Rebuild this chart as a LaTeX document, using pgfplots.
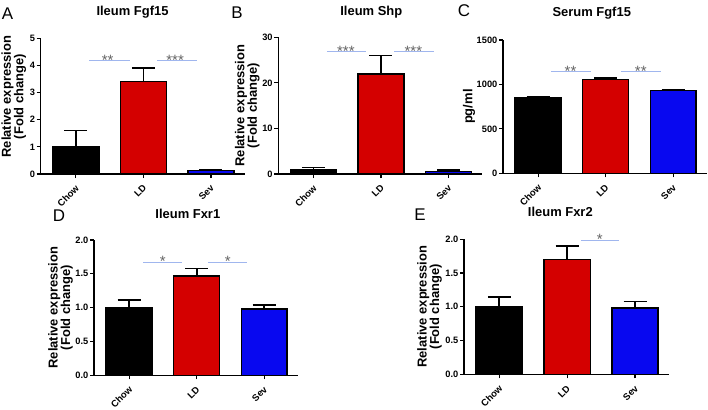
\documentclass[border=0pt]{standalone}
\usepackage{pgfplots}
\pgfplotsset{compat=1.18}
\usepackage{fontspec}
\setmainfont{Liberation Sans}

\definecolor{gpred}{RGB}{212,0,0}
\definecolor{gpblue}{RGB}{8,8,240}
\definecolor{sigline}{RGB}{160,182,238}
\definecolor{stargray}{RGB}{100,100,100}

\tikzset{
  stars/.style={text=stargray, font=\fontsize{15}{15}\selectfont, anchor=base, yshift=-4.3bp, inner sep=0pt},
}
\pgfplotsset{
  gp/.style={
    scale only axis, width=204bp, height=135bp,
    axis x line*=bottom, axis y line*=left,
    axis line style={line width=1.5pt, -},
    xmin=-0.52, xmax=2.5, ymin=0,
    xtick={0,1,2}, xticklabels={Chow,LD,Sev},
    tick align=outside, major tick length=4bp,
    tick style={black, line width=1.2pt},
    /pgf/number format/assume math mode=true,
    x tick label style={yshift=-4bp, xshift=-1bp, rotate=45, anchor=north east, inner sep=1.5pt,
      font=\bfseries\fontsize{9.5}{10}\selectfont},
    y tick label style={font=\bfseries\fontsize{9.3}{10}\selectfont, inner sep=1.5pt},
    title style={font=\bfseries\fontsize{13}{14}\selectfont, anchor=center},
    every axis y label/.style={rotate=90, anchor=center, align=center,
      font=\bfseries\fontsize{13}{12.5}\selectfont},
    clip=false,
  },
  gpbar/.style={ybar, bar shift=0pt, bar width=0.68, draw=black, line width=1.5pt, fill=#1,
    error bars/.cd, y dir=plus, y explicit,
    error bar style={line width=1.7pt, black},
    error mark options={rotate=90, line width=1.7pt, mark size=11.5bp, black}},
  sig/.style={sigline, line width=0.9pt},
}

\begin{document}
\begin{tikzpicture}
\path[use as bounding box] (0,0) rectangle (708bp,-410bp);

% Panel letters
\begin{scope}[every node/.style={font=\fontsize{17}{18}\selectfont, anchor=center, inner sep=0pt}]
\node at (7.5bp,-13.5bp) {A};
\node at (237bp,-12.5bp) {B};
\node at (464bp,-10.5bp) {C};
\node at (59bp,-215.5bp) {D};
\node at (420bp,-215bp) {E};
\end{scope}

% A: Ileum Fgf15
\begin{axis}[gp, at={(40.7bp,-174bp)}, anchor=south west, height=135.7bp,
  ymax=5, ytick={0,1,2,3,4,5},
  title={Ileum Fgf15}, title style={at={(axis description cs:0.45,1)}, yshift=20.3bp},
  ylabel={Relative expression\\(Fold change)},
  every axis y label/.append style={at={(axis description cs:-0.132,0.57)}}]
\addplot[gpbar=black] coordinates {(0,1.0) +- (0,0.6)};
\addplot[gpbar=gpred] coordinates {(1,3.4) +- (0,0.5)};
\addplot[gpbar=gpblue] coordinates {(2,0.12) +- (0,0.05)};
\addplot[sig] coordinates {(0.2,4.17) (0.8,4.17)};
\addplot[sig] coordinates {(1.2,4.17) (1.8,4.17)};
\node[stars] at (axis cs:0.47,4.17) {**};
\node[stars] at (axis cs:1.47,4.17) {***};
\end{axis}

% B: Ileum Shp
\begin{axis}[gp, at={(278.3bp,-174bp)}, anchor=south west, height=136.7bp,
  ymax=30, ytick={0,10,20,30},
  title={Ileum Shp}, title style={at={(axis description cs:0.456,1)}, yshift=19.3bp},
  ylabel={Relative expression\\(Fold change)},
  every axis y label/.append style={at={(axis description cs:-0.152,0.5)}}]
\addplot[gpbar=black] coordinates {(0,1.0) +- (0,0.45)};
\addplot[gpbar=gpred] coordinates {(1,22) +- (0,4)};
\addplot[gpbar=gpblue] coordinates {(2,0.5) +- (0,0.35)};
\addplot[sig] coordinates {(0.2,26.8) (0.78,26.8)};
\addplot[sig] coordinates {(1.2,26.8) (1.78,26.8)};
\node[stars] at (axis cs:0.48,26.8) {***};
\node[stars] at (axis cs:1.48,26.8) {***};
\end{axis}

% C: Serum Fgf15
\begin{axis}[gp, at={(503bp,-173.3bp)}, anchor=south west, height=133.3bp,
  ymax=1500, ytick={0,500,1000,1500},
  yticklabel style={/pgf/number format/1000 sep={}},
  title={Serum Fgf15}, title style={at={(axis description cs:0.435,1)}, yshift=21bp},
  ylabel={pg/ml},
  every axis y label/.append style={at={(axis description cs:-0.167,0.5)}}]
\addplot[gpbar=black] coordinates {(0,845) +- (0,15)};
\addplot[gpbar=gpred] coordinates {(1,1058) +- (0,12)};
\addplot[gpbar=gpblue] coordinates {(2,930) +- (0,10)};
\addplot[sig] coordinates {(0.19,1143) (0.78,1143)};
\addplot[sig] coordinates {(1.22,1143) (1.82,1143)};
\node[stars] at (axis cs:0.48,1143) {**};
\node[stars] at (axis cs:1.52,1143) {**};
\end{axis}

% D: Ileum Fxr1
\begin{axis}[gp, at={(94bp,-375.3bp)}, anchor=south west, height=135.3bp,
  ymax=2, ytick={0,0.5,1,1.5,2},
  yticklabel style={/pgf/number format/.cd, fixed, fixed zerofill, precision=1},
  title={Ileum Fxr1}, title style={at={(axis description cs:0.46,1)}, yshift=20bp},
  ylabel={Relative expression\\(Fold change)},
  every axis y label/.append style={at={(axis description cs:-0.164,0.5)}}]
\addplot[gpbar=black] coordinates {(0,1.0) +- (0,0.11)};
\addplot[gpbar=gpred] coordinates {(1,1.47) +- (0,0.11)};
\addplot[gpbar=gpblue] coordinates {(2,0.98) +- (0,0.06)};
\addplot[sig] coordinates {(0.21,1.67) (0.78,1.67)};
\addplot[sig] coordinates {(1.17,1.67) (1.74,1.67)};
\node[stars] at (axis cs:0.5,1.67) {*};
\node[stars] at (axis cs:1.46,1.67) {*};
\end{axis}

% E: Ileum Fxr2
\begin{axis}[gp, at={(464bp,-374.3bp)}, anchor=south west, width=205bp, height=135bp,
  ymax=2, ytick={0,0.5,1,1.5,2},
  yticklabel style={/pgf/number format/.cd, fixed, fixed zerofill, precision=1},
  title={Ileum Fxr2}, title style={at={(axis description cs:0.47,1)}, yshift=21.3bp},
  ylabel={Relative expression\\(Fold change)},
  every axis y label/.append style={at={(axis description cs:-0.168,0.5)}}]
\addplot[gpbar=black] coordinates {(0,1.0) +- (0,0.15)};
\addplot[gpbar=gpred] coordinates {(1,1.70) +- (0,0.20)};
\addplot[gpbar=gpblue] coordinates {(2,0.98) +- (0,0.10)};
\addplot[sig] coordinates {(1.2,1.98) (1.77,1.98)};
\node[stars] at (axis cs:1.48,1.98) {*};
\end{axis}
\end{tikzpicture}
\end{document}
